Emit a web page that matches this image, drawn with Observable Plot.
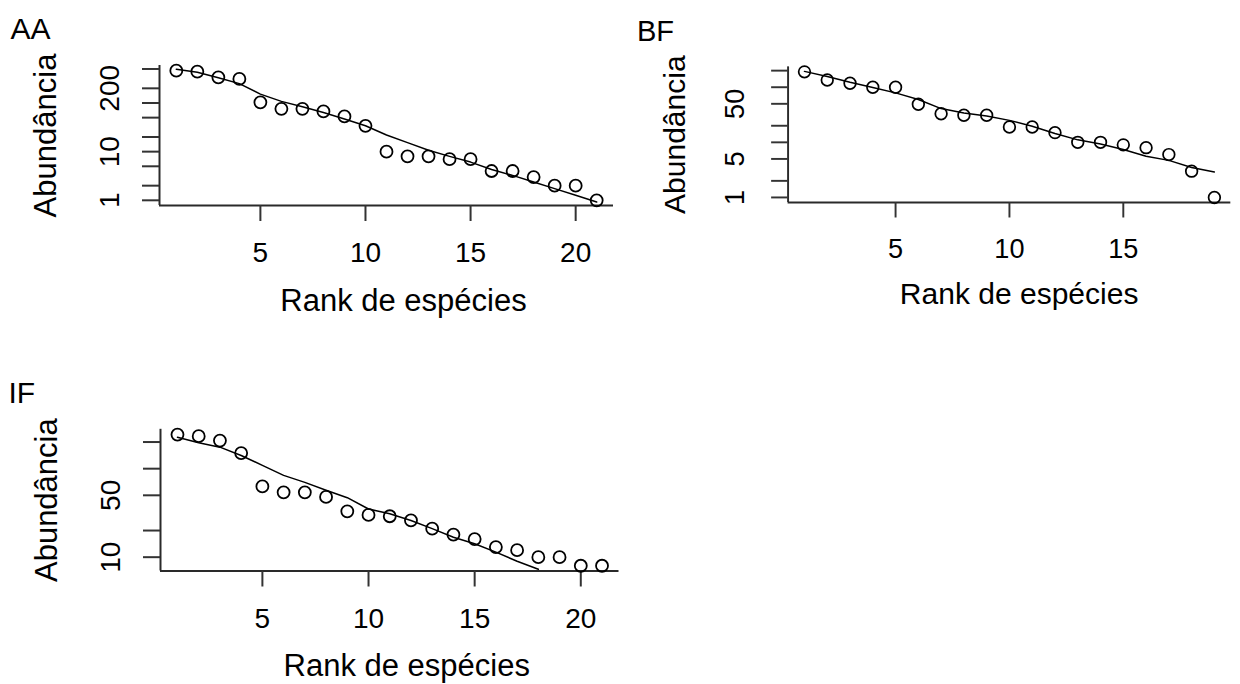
<!DOCTYPE html>
<html>
<head>
<meta charset="utf-8">
<script src="https://cdn.jsdelivr.net/npm/d3@7"></script>
<script src="https://cdn.jsdelivr.net/npm/@observablehq/plot@0.6"></script>
<style>
  html, body { margin: 0; padding: 0; background: #fff; overflow: hidden; }
  #wrap { position: relative; width: 1240px; height: 684px; overflow: hidden; background: #fff; }
  .panel { position: absolute; }
</style>
</head>
<body>
<div id="wrap"></div>
<script>
// ---------- data ----------
const xLabel = "Rank de espécies";
const yLabel = "Abundância";

// AA
const aaName = "AA";
const aaAbund = [461, 440, 336, 312, 103, 76, 76, 67, 53, 34, 10, 8, 8, 7, 7, 4, 4, 3, 2, 2, 1];
const aaFit = [495, 430, 330, 250, 152, 108, 84, 64, 47, 34, 22, 15.3, 10.7, 8, 6.1, 4.3, 3.25, 2.37, 1.74, 1.27, 0.92];
const aaYTicks = [1, 2, 5, 10, 20, 50, 100, 200, 500];
const aaYLabels = [1, 10, 200];
const aaXTicks = [5, 10, 15, 20];

// BF
const bfName = "BF";
const bfAbund = [190, 135, 118, 100, 100, 49, 33, 31, 31, 19, 19, 15, 10, 10, 9, 8, 6, 3, 1];
const bfFit = [194, 157, 123, 99, 79, 60, 41, 34, 30, 25, 19.6, 14.5, 11.1, 9.3, 7.4, 5.6, 4.7, 3.5, 2.9];
const bfYTicks = [1, 2, 5, 10, 20, 50, 100, 200];
const bfYLabels = [1, 5, 50];
const bfXTicks = [5, 10, 15];

// IF
const ifName = "IF";
const ifAbund = [243, 233, 208, 150, 63, 54, 54, 48, 33, 30, 29, 26, 21, 18, 16, 13, 12, 10, 10, 8, 8];
const ifFit = [227, 196, 175, 141, 109, 84, 70, 57, 47, 35, 31, 26, 21, 16.8, 14.2, 11.4, 9.0, 7.3];
const ifYTicks = [10, 20, 50, 100, 200];
const ifYLabels = [10, 50];
const ifXTicks = [5, 10, 15, 20];

// ---------- helpers ----------
const FONT = "'Liberation Sans', Arial, Helvetica, sans-serif";
function logDomain(vals) {
  const lo = Math.log10(d3.min(vals)), hi = Math.log10(d3.max(vals));
  const p = (hi - lo) * 0.04;
  return [10 ** (lo - p), 10 ** (hi + p)];
}
function rankDomain(n) {
  const p = (n - 1) * 0.04;
  return [1 - p, n + p];
}

function panel(o) {
  const pts = o.abund.map((v, i) => ({rank: i + 1, v}));
  const fit = o.fit.map((v, i) => ({rank: i + 1, v}));
  const xd = rankDomain(o.abund.length);
  const yd = logDomain(o.abund);
  const axisStroke = "#2a2a2a";
  return Plot.plot({
    width: o.width, height: o.height,
    marginLeft: o.mL, marginRight: o.mR, marginTop: o.mT, marginBottom: o.mB,
    x: {domain: xd, axis: null},
    y: {type: "log", domain: yd, axis: null},
    style: {fontFamily: FONT, color: "#000", background: "transparent", overflow: "visible"},
    marks: [
      Plot.ruleX([xd[0]], {stroke: axisStroke, strokeWidth: 2}),
      Plot.ruleY([yd[0]], {stroke: axisStroke, strokeWidth: 2}),
      Plot.axisY({ticks: o.yTicks, tickSize: 17, tickFormat: () => "", label: null, stroke: "#333", strokeWidth: 2}),
      Plot.text(o.yLabels, {y: d => d, text: d => String(d), frameAnchor: "left", dx: o.yLabDx, rotate: -90,
        lineAnchor: "bottom", textAnchor: "middle", fontSize: 28, fill: "#000"}),
      Plot.axisX({ticks: o.xTicks, tickSize: 16, tickPadding: 21, fontSize: 28, label: null, stroke: "#333", strokeWidth: 2, fill: "#000"}),
      Plot.text([yLabel], {frameAnchor: "left", dx: o.yTitleDx, rotate: -90, lineAnchor: "bottom",
        textAnchor: "middle", fontSize: 31, fill: "#000"}),
      Plot.text([xLabel], {frameAnchor: "bottom", dx: o.xTitleDx, dy: 105, lineAnchor: "bottom",
        textAnchor: "middle", fontSize: 31, fill: "#000"}),
      Plot.text([o.name], {frameAnchor: "top-left", dx: o.nameDx, dy: o.nameDy, lineAnchor: "bottom",
        textAnchor: "start", fontSize: 30, fill: "#000"}),
      Plot.line(fit, {x: "rank", y: "v", stroke: "#000", strokeWidth: 1.5, clip: true}),
      Plot.dot(pts, {x: "rank", y: "v", r: 6, stroke: "#000", strokeWidth: 1.8, fill: "none"})
    ]
  });
}

function place(node, left, top) {
  const d = document.createElement("div");
  d.className = "panel";
  d.style.left = left + "px";
  d.style.top = top + "px";
  d.appendChild(node);
  document.getElementById("wrap").appendChild(d);
}

place(panel({name: aaName, abund: aaAbund, fit: aaFit, yTicks: aaYTicks, yLabels: aaYLabels, xTicks: aaXTicks,
  width: 620, height: 330, mL: 159, mR: 7, mT: 65, mB: 125,
  yLabDx: -41, yTitleDx: -104, xTitleDx: 17, nameDx: -149, nameDy: -27}), 0, 0);

place(panel({name: bfName, abund: bfAbund, fit: bfFit, yTicks: bfYTicks, yLabels: bfYLabels, xTicks: bfXTicks,
  width: 640, height: 330, mL: 173, mR: 10, mT: 68.5, mB: 121.5,
  yLabDx: -45, yTitleDx: -106, xTitleDx: 10, nameDx: -156, nameDy: -27}), 620, 0);

place(panel({name: ifName, abund: ifAbund, fit: ifFit, yTicks: ifYTicks, yLabels: ifYLabels, xTicks: ifXTicks,
  width: 620, height: 314, mL: 160, mR: 1.5, mT: 58.8, mB: 113.5,
  yLabDx: -41, yTitleDx: -104, xTitleDx: 17, nameDx: -152, nameDy: -26}), 0, 370);
</script>
</body>
</html>
